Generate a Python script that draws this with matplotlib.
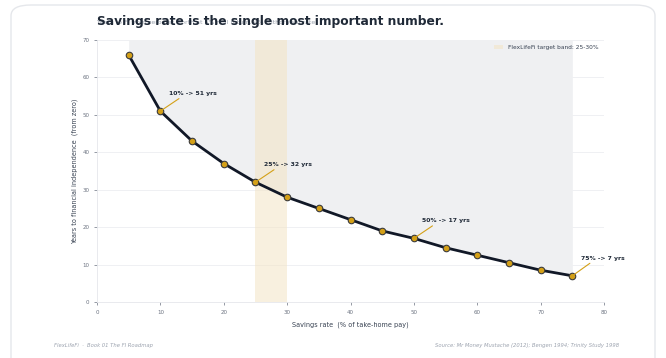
import matplotlib.pyplot as plt
from matplotlib.patches import FancyBboxPatch
import numpy as np

# savings rate (%) vs years to financial independence
rates = [5, 10, 15, 20, 25, 30, 35, 40, 45, 50, 55, 60, 65, 70, 75]
years = [66, 51, 43, 37, 32, 28, 25, 22, 19, 17, 14.5, 12.5, 10.5, 8.5, 7]
callouts = [10, 25, 50, 75]
band = (25, 30)

NAVY = '#111827'
GOLD = '#d4a017'
GREY = '#6b7280'

fig = plt.figure(figsize=(6.66, 3.58), dpi=100)
fig.patch.set_facecolor('white')

# card behind everything
card = FancyBboxPatch((11 / 666, -0.05), 644 / 666, 1.0 - 5 / 358 + 0.05,
                      boxstyle='round,pad=0,rounding_size=0.03',
                      transform=fig.transFigure, facecolor='white',
                      edgecolor='#e5e7eb', linewidth=1.0, zorder=-10)
fig.patches.append(card)

ax = fig.add_axes([97 / 666, (358 - 302) / 358, (604 - 97) / 666, (302 - 40) / 358])
ax.set_facecolor('none')
ax.set_zorder(2)

x = np.array(rates)
y = np.array(years)

ax.fill_between(x, y, 70, color='#eff0f2', zorder=1, linewidth=0)
ax.axvspan(band[0], band[1], color='#f3e3c0', alpha=0.5, zorder=1.5, linewidth=0,
           label=f'FlexLifeFi target band: {band[0]}-{band[1]}%')

ax.plot(x, y, color=NAVY, lw=2, zorder=3)
ax.scatter(x, y, s=22, color=GOLD, edgecolor='#3b3b3b', linewidth=0.8, zorder=4)

for r in callouts:
    v = years[rates.index(r)]
    ax.annotate(f'{r}% -> {v:g} yrs', xy=(r, v), xytext=(6, 11),
                textcoords='offset points', fontsize=4.4, fontweight='bold',
                color='#1f2937', ha='left', va='bottom',
                arrowprops=dict(arrowstyle='-', color=GOLD, lw=0.8,
                                shrinkA=0, shrinkB=0, relpos=(0.3, 0)),
                zorder=5)

ax.set_xlim(0, 80)
ax.set_ylim(0, 70)
ax.set_xticks(range(0, 81, 10))
ax.set_yticks(range(0, 71, 10))
ax.tick_params(labelsize=4, colors=GREY, length=2, width=0.5)
ax.grid(axis='y', color='#eceef1', lw=0.6, zorder=0)
ax.set_axisbelow(True)
for s in ['top', 'right']:
    ax.spines[s].set_visible(False)
for s in ['left', 'bottom']:
    ax.spines[s].set_color('#e5e7eb')
    ax.spines[s].set_linewidth(0.6)

ax.set_xlabel('Savings rate  (% of take-home pay)', fontsize=4.7, color='#374151', labelpad=5)
ax.set_ylabel('Years to financial independence  (from zero)', fontsize=4.7, color='#374151', labelpad=3)

leg = ax.legend(loc='upper right', fontsize=4.2, frameon=False, handlelength=1.6)
for t in leg.get_texts():
    t.set_color('#374151')

fig.text(97 / 666, 1 - 22 / 358, 'Years to FI from zero net worth at 5% real return, 4% withdrawal rate',
         fontsize=4.5, color='#9ca3af', va='center', ha='left')
fig.text(97 / 666, 1 - 22 / 358, 'Savings rate is the single most important number.',
         fontsize=8.8, fontweight='bold', color='#1f2937', va='center', ha='left')

fig.text(54 / 666, 1 - 346 / 358, 'FlexLifeFi  ·  Book 01 The FI Roadmap',
         fontsize=3.8, style='italic', color='#9ca3af', va='center', ha='left')
fig.text(619 / 666, 1 - 346 / 358, 'Source: Mr Money Mustache (2012); Bengen 1994; Trinity Study 1998',
         fontsize=3.8, style='italic', color='#9ca3af', va='center', ha='right')

fig.savefig('out.png', dpi=100, facecolor='white')
